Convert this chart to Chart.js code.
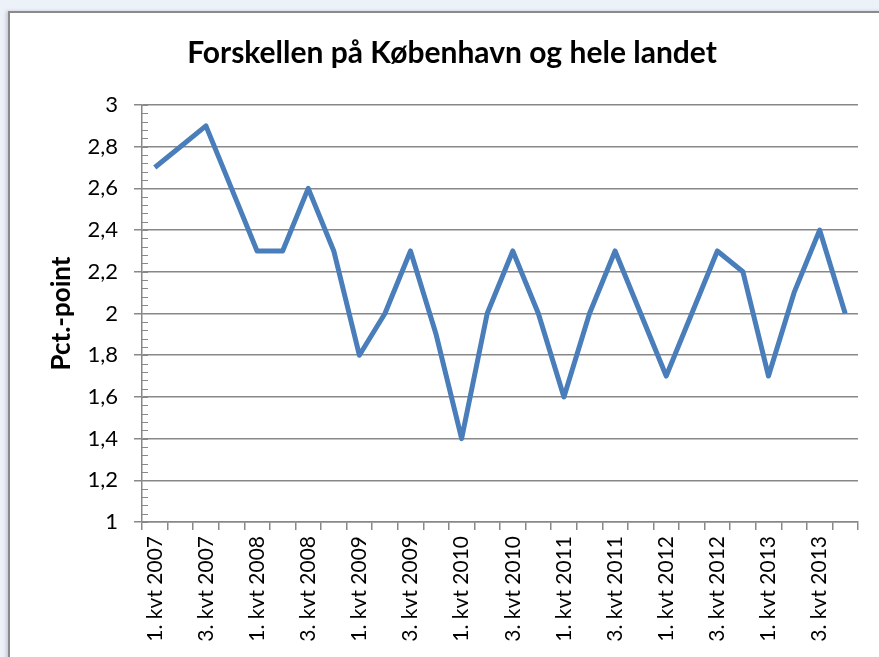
<!DOCTYPE html>
<html>
<head>
<meta charset="utf-8">
<script src="https://cdn.jsdelivr.net/npm/chart.js@4/dist/chart.umd.min.js"></script>
<style>
  html, body { margin: 0; padding: 0; overflow: hidden; background: #edf1f8; }
  #frame {
    position: absolute; left: 8px; top: 11px; width: 900px; height: 700px;
    background: #fff; border: 2px solid #8a8a8a; box-sizing: border-box;
    box-shadow: -2px 0 3px rgba(160,170,190,0.5);
  }
  #chart { position: absolute; left: 0; top: 0; }
</style>
</head>
<body>
<div id="frame"><canvas id="chart" width="880" height="690"></canvas></div>
<script>
// Quarter labels, 1. kvt 2007 .. 4. kvt 2013
const years = ["2007","2008","2009","2010","2011","2012","2013"];
const quarters = ["1.","2.","3.","4."];
const labels = [];
years.forEach(y => quarters.forEach(q => labels.push(q + " kvt " + y)));

// Difference Copenhagen vs whole country (pct.-point)
const diff = [2.7, 2.8, 2.9, 2.6, 2.3, 2.3, 2.6, 2.3,
              1.8, 2.0, 2.3, 1.9, 1.4, 2.0, 2.3, 2.0,
              1.6, 2.0, 2.3, 2.0, 1.7, 2.0, 2.3, 2.2,
              1.7, 2.1, 2.4, 2.0];

const yMin = 1, yMax = 3, yStep = 0.2, yMinorStep = 0.04;

const font = "Lato, 'Open Sans', sans-serif";
const gridColor = "#888888";

// minor ticks on the inside of the y axis, like Excel
const minorTicks = {
    id: "minorTicks",
    afterDraw(chart){
        const y = chart.scales.y, ctx = chart.ctx;
        const x0 = chart.chartArea.left;
        ctx.save();
        ctx.strokeStyle = gridColor;
        ctx.lineWidth = 1;
        for(let v = yMin; v <= yMax + 1e-9; v += yMinorStep){
            let py = Math.round(y.getPixelForValue(v)) + 0.5;
            ctx.beginPath();
            ctx.moveTo(x0, py);
            ctx.lineTo(x0 + 6, py);
            ctx.stroke();
        }
        ctx.restore();
    }
};

new Chart(document.getElementById("chart").getContext("2d"), {
    type: "line",
    data: {
        labels: labels,
        datasets: [{
            data: diff,
            borderColor: "#4a7ebb",
            borderWidth: 5,
            borderJoinStyle: "round",
            pointRadius: 0,
            tension: 0,
            fill: false
        }]
    },
    options: {
        responsive: false,
        animation: false,
        layout: { padding: { left: 36, right: 32, top: 0, bottom: 0 } },
        plugins: {
            legend: { display: false },
            tooltip: { enabled: false },
            title: {
                display: true,
                text: "Forskellen på København og hele landet",
                color: "#000",
                font: { family: font, size: 30, weight: "bold" },
                padding: { top: 22, bottom: 34 }
            }
        },
        scales: {
            x: {
                offset: true,
                grid: { offset: true, drawOnChartArea: false, drawTicks: true, tickLength: 8, color: gridColor, lineWidth: 1.5 },
                border: { display: true, color: gridColor, width: 1.5 },
                ticks: {
                    autoSkip: false, minRotation: 90, maxRotation: 90, padding: 6,
                    color: "#000", font: { family: font, size: 21 },
                    callback: function(v, i){ return i % 2 === 0 ? this.getLabelForValue(v) : ""; }
                },
                afterFit: s => { s.height = 181; }
            },
            y: {
                min: yMin, max: yMax,
                grid: { color: gridColor, lineWidth: 1.5, tickLength: 8, drawTicks: true },
                border: { display: true, color: gridColor, width: 1.5 },
                ticks: {
                    stepSize: yStep, padding: 16, color: "#000",
                    font: { family: font, size: 22 },
                    callback: v => (Math.round(v * 10) / 10).toString().replace(".", ",")
                },
                title: {
                    display: true, text: "Pct.-point", color: "#000",
                    font: { family: font, size: 26, weight: "bold" }, padding: 0
                },
                afterFit: s => { s.width = 96; }
            }
        }
    },
    plugins: [minorTicks]
});
</script>
</body>
</html>
